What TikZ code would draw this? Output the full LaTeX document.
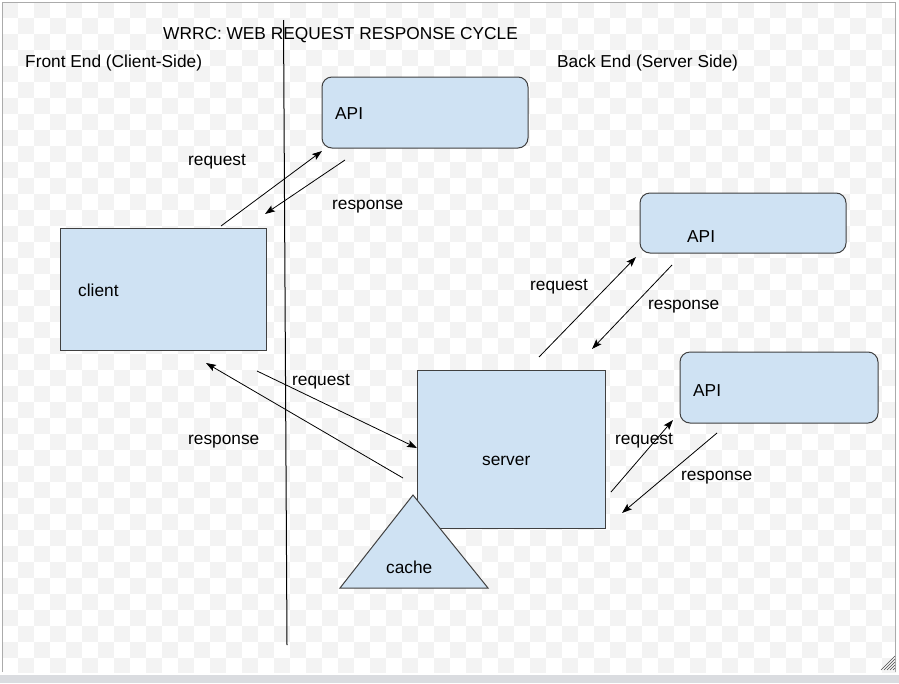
\documentclass[tikz,border=0pt]{standalone}
\usepackage{fontspec}
\setmainfont{Liberation Sans}
\usetikzlibrary{arrows.meta}
\definecolor{boxblue}{HTML}{CFE2F3}
\definecolor{checker}{HTML}{F3F3F3}
\definecolor{framegray}{HTML}{ABABAB}
\definecolor{stripgray}{HTML}{DADCE0}
\tikzset{
    box/.style={draw=black!75, fill=boxblue, line width=1pt, inner sep=0pt},
    apibox/.style={box, rounded corners=10pt},
    lbl/.style={anchor=base west, inner sep=0pt, yshift=-1pt, font=\fontsize{17.3}{20}\selectfont},
    flow/.style={-{Stealth[length=10pt,width=7pt,inset=2pt]}, line width=0.8pt},
}
\begin{document}
\begin{tikzpicture}[x=1pt,y=-1pt]
    \useasboundingbox (0,0) rectangle (899,683);
    % background
    \begin{scope}
        \clip (2,2) rectangle (896,672);
        \foreach \i in {0,2,...,54} {
            \foreach \j in {0,2,...,40} {
                \fill[checker] (2+16*\i,2+16*\j) rectangle +(16,16);
                \fill[checker] (18+16*\i,18+16*\j) rectangle +(16,16);
            }
        }
    \end{scope}
    \draw[framegray, line width=1.5pt] (2.5,672) -- (2.5,2.5) -- (895.5,2.5) -- (895.5,672);
    \fill[stripgray] (0,675) rectangle (899,683);
    \foreach \d in {0,3,6,9,12} \draw[black!70, line width=0.6pt] (881+\d,670) -- (895,656+\d);
    % headings
    \node[lbl] (title) at (163,38) {WRRC: WEB REQUEST RESPONSE CYCLE};
    \node[lbl] (front) at (25,66) {Front End (Client-Side)};
    \node[lbl] (back) at (557,66) {Back End (Server Side)};
    \coordinate (divtop) at (283.5,20);
    \coordinate (divbot) at (287,645);
    \draw[line width=1pt] (divtop) -- (divbot);
    % boxes
    \node[apibox, minimum width=206, minimum height=71] (api1) at (425,112.5) {};
    \node[apibox, minimum width=206, minimum height=60] (api2) at (743,223) {};
    \node[apibox, minimum width=198, minimum height=71] (api3) at (779,387.5) {};
    \node[box, minimum width=206, minimum height=122] (client) at (163,289) {};
    \node[box, minimum width=188, minimum height=158] (server) at (511,449) {};
    \coordinate (cachetop) at (413,495);
    \coordinate (cacheleft) at (340,588);
    \coordinate (cacheright) at (488,588);
    \draw[draw=black!75, fill=boxblue, line width=1pt] (cachetop) -- (cacheright) -- (cacheleft) -- cycle;
    \node[lbl] (api1txt) at (335,118) {API};
    \node[lbl] (api2txt) at (687,241) {API};
    \node[lbl] (api3txt) at (693,395) {API};
    \node[lbl] (clienttxt) at (78,295) {client};
    \node[lbl] (servertxt) at (482,464) {server};
    \node[lbl] (cachetxt) at (386,572) {cache};
    % arrows
    \coordinate (reqa) at (221,226);   \coordinate (reqb) at (322,151);
    \coordinate (resa) at (345,160);   \coordinate (resb) at (265,214);
    \coordinate (reqc) at (257,371);   \coordinate (reqd) at (417,448);
    \coordinate (resc) at (403,478);   \coordinate (resd) at (206,363);
    \coordinate (reqe) at (539,357);   \coordinate (reqf) at (636,257);
    \coordinate (rese) at (672,265);   \coordinate (resf) at (592,349);
    \coordinate (reqg) at (611,492);   \coordinate (reqh) at (673,420);
    \coordinate (resg) at (717,433);   \coordinate (resh) at (622,513);
    \draw[flow] (reqa) -- (reqb);
    \draw[flow] (resa) -- (resb);
    \draw[flow] (reqc) -- (reqd);
    \draw[flow] (resc) -- (resd);
    \draw[flow] (reqe) -- (reqf);
    \draw[flow] (rese) -- (resf);
    \draw[flow] (reqg) -- (reqh);
    \draw[flow] (resg) -- (resh);
    \node[lbl] (reqtxta) at (188,164) {request};
    \node[lbl] (restxta) at (332,208) {response};
    \node[lbl] (reqtxtb) at (292,384) {request};
    \node[lbl] (restxtb) at (188,443) {response};
    \node[lbl] (reqtxtc) at (530,289) {request};
    \node[lbl] (restxtc) at (648,308) {response};
    \node[lbl] (reqtxtd) at (615,443) {request};
    \node[lbl] (restxtd) at (681,479) {response};
\end{tikzpicture}
\end{document}
